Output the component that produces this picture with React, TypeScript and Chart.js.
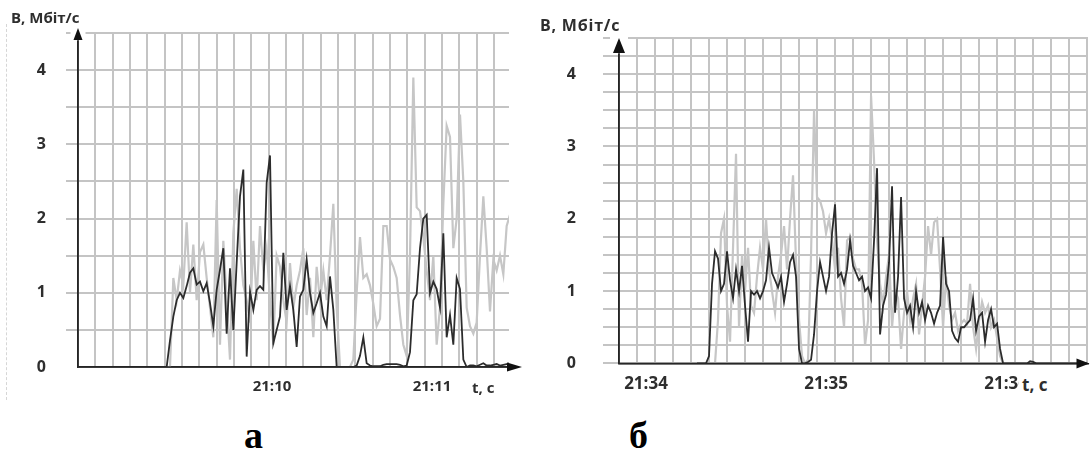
import React, { useEffect, useRef } from "react";
import { Chart, registerables } from "chart.js";

Chart.register(...registerables);

// ---------- Chart "а" (time in seconds since 21:00:00) ----------
const A_X_MIN = 527.25;
const A_X_MAX = 688.875;
const A_GRID_STEP = 6.5;
const A_TIME_LABELS = [600, 660]; // 21:10, 21:11
const A_Y_GRID = [0, 0.5, 1, 1.5, 2, 2.5, 3, 3.5, 4, 4.5];
const A_T0 = 558;
const A_DT = 1.25;
const A_DARK = [
  0, 0, 0, 0.36, 0.68, 0.9, 1.0, 0.93, 1.09, 1.27,
  1.33, 1.11, 1.15, 1.02, 1.13, 0.86, 0.55, 1.04, 1.31, 1.6,
  0.45, 1.33, 0.5, 1.4, 2.3, 2.66, 0.14, 1.02, 0.77, 1.04,
  1.09, 1.04, 2.48, 2.85, 0.32, 0.5, 0.68, 1.54, 0.77, 1.09,
  0.77, 0.27, 0.95, 1.04, 1.45, 1.0, 0.73, 0.86, 1.0, 0.68,
  0.55, 1.22, 0.77, 0, 0, 0, 0, 0, 0, 0.02,
  0.15, 0.4, 0.05, 0.02, 0.01, 0.01, 0.01, 0.03, 0.04, 0.04,
  0.04, 0.04, 0.03, 0.01, 0.02, 0.2, 0.9, 0.98, 1.6, 2.0,
  2.05, 1.0, 1.15, 1.05, 0.8, 1.8, 0.4, 0.7, 0.3, 1.2,
  1.05, 0.1, 0, 0.02, 0.02, 0.01, 0.03, 0.05, 0.02, 0.02,
  0.03, 0.04, 0.02, 0.03, 0.04, 0.05,
];
const A_LIGHT = [
  0, 0, 0, 0, 1.2, 0.9, 1.3, 1.1, 1.95, 1.0,
  1.65, 0.9, 1.55, 1.65, 1.2, 0.8, 0.4, 2.25, 0.3, 1.7,
  0.9, 0.1, 1.8, 2.4, 1.6, 1.1, 0.9, 0.6, 1.7, 0.9,
  1.9, 1.3, 1.6, 0.9, 0.3, 1.5, 1.35, 0.9, 0.6, 1.4,
  0.8, 1.1, 1.3, 1.6, 0.7, 1.2, 0.4, 1.35, 0.9, 1.3,
  0.9, 1.5, 2.2, 0.8, 0, 0, 0, 0, 0.1, 1.0,
  1.75, 1.2, 1.25, 1.1, 0.85, 0.55, 0.65, 1.9, 1.9, 1.45,
  1.35, 1.2, 0.7, 0.3, 0.15, 1.5, 3.9, 2.15, 2.1, 1.75,
  1.3, 0.9, 1.5, 0.3, 0.8, 2.2, 3.25, 3.1, 1.6, 2.0,
  3.4, 2.5, 0.8, 0.55, 0.45, 0.6, 1.5, 2.3, 1.6, 0.75,
  1.45, 1.3, 1.5, 1.25, 1.9, 2.05,
];

// ---------- Chart "б" ----------
const B_X_MIN = 2031;
const B_X_MAX = 2187.3;
const B_GRID_STEP = 6;
const B_TIME_LABELS = [2040, 2100, 2160]; // 21:34, 21:35, 21:36
const B_Y_GRID = [
  0, 0.25, 0.5, 0.75, 1, 1.25, 1.5, 1.75, 2, 2.25,
  2.5, 2.75, 3, 3.25, 3.5, 3.75, 4, 4.25, 4.5,
];
const B_T0 = 2057;
const B_DT = 1;
const B_DARK = [
  0, 0, 0, 0, 0.1, 1.1, 1.55, 1.45, 1.0, 1.1,
  1.55, 1.15, 0.9, 1.3, 1.0, 1.35, 0.8, 0.3, 1.0, 0.95,
  1.0, 0.9, 1.0, 1.15, 1.6, 1.25, 1.15, 1.05, 1.2, 0.85,
  1.1, 1.4, 1.5, 1.2, 0.2, 0, 0, 0.02, 0.05, 0.4,
  1.0, 1.4, 1.2, 1.0, 1.2, 1.8, 2.2, 1.2, 1.25, 1.1,
  1.3, 1.7, 1.35, 1.25, 1.15, 1.2, 1.0, 1.05, 0.9, 1.7,
  2.7, 0.4, 0.8, 0.95, 1.4, 2.45, 0.7, 1.2, 2.3, 0.9,
  0.7, 0.8, 0.5, 1.0, 0.7, 0.85, 0.6, 0.8, 0.7, 0.55,
  0.7, 0.8, 1.75, 1.1, 1.0, 0.45, 0.35, 0.3, 0.5, 0.5,
  0.55, 0.6, 0.9, 0.45, 0.65, 0.7, 0.3, 0.6, 0.75, 0.5,
  0.55, 0.2, 0, 0, 0, 0, 0, 0, 0, 0,
  0, 0.03, 0.02, 0, 0, 0, 0, 0, 0, 0,
  0, 0, 0, 0, 0, 0, 0, 0, 0, 0,
  0,
];
const B_LIGHT = [
  0, 0, 0, 0, 0, 0, 0, 0.6, 1.8, 2.0,
  0.8, 0.3, 1.6, 2.9, 0.5, 1.5, 1.0, 1.6, 0.8, 0.7,
  1.2, 1.6, 1.3, 2.0, 1.3, 1.0, 0.7, 1.2, 1.5, 1.9,
  1.3, 2.0, 2.6, 1.4, 0.6, 0.1, 0, 0.05, 1.5, 3.5,
  2.3, 2.25, 2.1, 1.8, 2.0, 1.7, 1.3, 1.6, 0.9, 0.5,
  1.7, 1.75, 1.45, 1.3, 1.3, 1.1, 0.25, 0.6, 3.7, 2.8,
  1.7, 1.1, 0.8, 1.2, 1.5, 0.5, 1.0, 0.9, 0.2, 0.7,
  1.0, 0.6, 0.9, 1.1, 0.4, 0.8, 1.2, 1.9, 1.5, 1.95,
  2.0, 1.3, 0.5, 1.2, 0.8, 0.6, 0.7, 0.45, 0.55, 0.6,
  0.55, 1.1, 0.5, 0.2, 0.6, 0.85, 0.7, 0.8, 0.5, 0.6,
  0.35, 0.1, 0, 0, 0, 0, 0, 0, 0, 0,
  0, 0, 0, 0, 0, 0, 0, 0, 0, 0,
  0, 0, 0, 0, 0, 0, 0, 0, 0, 0,
  0,
];

const GRID_COLOR = "#c4c4c4";
const LIGHT_COLOR = "#c6c6c6";
const DARK_COLOR = "#2c2c2c";
const AXIS_COLOR = "#262626";
const TEXT_COLOR = "#2e2e2e";

function fmtTime(t: number): string {
  const h = 21 + Math.floor(t / 3600);
  const m = Math.floor((t % 3600) / 60);
  return `${h}:${String(m).padStart(2, "0")}`;
}

const arrowPlugin = {
  id: "axisArrows",
  afterDraw(chart: any, _args: any, opts: any) {
    const { ctx, chartArea } = chart;
    const { left, top, right, bottom } = chartArea;
    ctx.save();
    const yTip = top - opts.yOver;
    ctx.fillStyle = "#ffffff";
    ctx.fillRect(left - opts.yW - 3, yTip - 2, 2 * opts.yW + 6, opts.yH + 3);
    ctx.strokeStyle = AXIS_COLOR;
    ctx.lineWidth = 1.5;
    ctx.beginPath();
    ctx.moveTo(left, bottom);
    ctx.lineTo(left, yTip + opts.yH - 1);
    ctx.stroke();
    ctx.fillStyle = "#111111";
    ctx.beginPath();
    ctx.moveTo(left, yTip);
    ctx.lineTo(left - opts.yW, yTip + opts.yH);
    ctx.lineTo(left + opts.yW, yTip + opts.yH);
    ctx.closePath();
    ctx.fill();
    const xTip = right + opts.xOver;
    ctx.beginPath();
    ctx.moveTo(left, bottom);
    ctx.lineTo(xTip - opts.xH + 1, bottom);
    ctx.stroke();
    ctx.beginPath();
    ctx.moveTo(xTip, bottom);
    ctx.lineTo(xTip - opts.xH, bottom - opts.xW);
    ctx.lineTo(xTip - opts.xH, bottom + opts.xW);
    ctx.closePath();
    ctx.fill();
    ctx.restore();
  },
};

type Spec = {
  left: number;
  width: number;
  height: number;
  padTop: number;
  padRight: number;
  yWidth: number;
  xHeight: number;
  xMin: number;
  xMax: number;
  gridStep: number;
  timeLabels: number[];
  yGrid: number[];
  yTickLen: number;
  yPad: number;
  xPad: number;
  hideZeroTick: boolean;
  t0: number;
  dt: number;
  dark: number[];
  light: number[];
  yFont: any;
  xFont: any;
  arrows: any;
};

function Panel({ spec }: { spec: Spec }) {
  const ref = useRef<HTMLCanvasElement>(null);
  useEffect(() => {
    const s = spec;
    const toPts = (arr: number[]) => arr.map((v, i) => ({ x: s.t0 + i * s.dt, y: v }));
    const chart = new Chart(ref.current as HTMLCanvasElement, {
      type: "line",
      data: {
        datasets: [
          {
            label: "dark",
            data: toPts(s.dark),
            borderColor: DARK_COLOR,
            borderWidth: 1.8,
            pointRadius: 0,
            tension: 0,
            order: 0,
            xAxisID: "x",
            yAxisID: "y",
          },
          {
            label: "light",
            data: toPts(s.light),
            borderColor: LIGHT_COLOR,
            borderWidth: 2.2,
            pointRadius: 0,
            tension: 0,
            order: 1,
            xAxisID: "x",
            yAxisID: "y",
          },
        ],
      },
      options: {
        animation: false,
        responsive: false,
        maintainAspectRatio: false,
        layout: { padding: { top: s.padTop, right: s.padRight, left: 0, bottom: 0 } },
        plugins: {
          legend: { display: false },
          tooltip: { enabled: false },
          axisArrows: s.arrows,
        } as any,
        scales: {
          x: {
            type: "linear",
            position: "bottom",
            weight: 0,
            min: s.xMin,
            max: s.xMax,
            afterBuildTicks: (sc: any) => {
              const t: any[] = [];
              for (let v = s.xMin; v <= s.xMax + 1e-9; v += s.gridStep) t.push({ value: v });
              sc.ticks = t;
            },
            afterFit: (sc: any) => {
              sc.height = 0;
            },
            ticks: { display: false },
            grid: { color: GRID_COLOR, lineWidth: 2, drawTicks: false },
            border: { display: true, color: AXIS_COLOR, width: 1.5 },
          },
          xl: {
            type: "linear",
            position: "bottom",
            weight: 1,
            min: s.xMin,
            max: s.xMax,
            afterBuildTicks: (sc: any) => {
              sc.ticks = s.timeLabels.map((v) => ({ value: v }));
            },
            afterFit: (sc: any) => {
              sc.height = s.xHeight;
            },
            grid: { display: false, drawTicks: false },
            border: { display: false },
            ticks: {
              autoSkip: false,
              maxRotation: 0,
              padding: s.xPad,
              color: TEXT_COLOR,
              font: s.xFont,
              callback: (v: any) => fmtTime(Number(v)),
            },
          },
          y: {
            type: "linear",
            position: "left",
            min: 0,
            max: 4.5,
            afterBuildTicks: (sc: any) => {
              sc.ticks = s.yGrid.map((v) => ({ value: v }));
            },
            afterFit: (sc: any) => {
              sc.width = s.yWidth;
            },
            grid: {
              color: GRID_COLOR,
              lineWidth: 2,
              tickLength: s.yTickLen,
              tickColor: (c: any) =>
                s.hideZeroTick && c.tick && c.tick.value === 0 ? "rgba(0,0,0,0)" : GRID_COLOR,
            },
            border: { display: true, color: AXIS_COLOR, width: 1.5 },
            ticks: {
              autoSkip: false,
              padding: s.yPad,
              color: TEXT_COLOR,
              font: s.yFont,
              callback: (v: any) => (Number.isInteger(Number(v)) ? String(v) : ""),
            },
          },
        },
      },
      plugins: [arrowPlugin as any],
    });
    return () => chart.destroy();
  }, [spec]);
  return (
    <canvas
      ref={ref}
      width={spec.width}
      height={spec.height}
      style={{ position: "absolute", left: spec.left, top: 0, width: spec.width, height: spec.height }}
    />
  );
}

const SPEC_A: Spec = {
  left: 0,
  width: 530,
  height: 400,
  padTop: 33,
  padRight: 21,
  yWidth: 78,
  xHeight: 33,
  xMin: A_X_MIN,
  xMax: A_X_MAX,
  gridStep: A_GRID_STEP,
  timeLabels: A_TIME_LABELS,
  yGrid: A_Y_GRID,
  yTickLen: 12,
  yPad: 20,
  xPad: 11,
  hideZeroTick: true,
  t0: A_T0,
  dt: A_DT,
  dark: A_DARK,
  light: A_LIGHT,
  yFont: { family: "'Open Sans'", size: 16, weight: "700" },
  xFont: { family: "'Open Sans'", size: 15, weight: "700" },
  arrows: { yOver: 5, yH: 12, yW: 4.5, xOver: 13, xH: 15, xW: 4.5 },
};

const SPEC_B: Spec = {
  left: 540,
  width: 550,
  height: 400,
  padTop: 38,
  padRight: 2,
  yWidth: 79,
  xHeight: 33,
  xMin: B_X_MIN,
  xMax: B_X_MAX,
  gridStep: B_GRID_STEP,
  timeLabels: B_TIME_LABELS,
  yGrid: B_Y_GRID,
  yTickLen: 16,
  yPad: 27,
  xPad: 11,
  hideZeroTick: false,
  t0: B_T0,
  dt: B_DT,
  dark: B_DARK,
  light: B_LIGHT,
  yFont: { family: "'Open Sans'", size: 16, weight: "700" },
  xFont: { family: "'Open Sans'", size: 17, weight: "700" },
  arrows: { yOver: 0, yH: 15, yW: 6, xOver: 1.5, xH: 13, xW: 5 },
};

const txt = (extra: React.CSSProperties): React.CSSProperties => ({
  position: "absolute",
  fontFamily: "'Open Sans', sans-serif",
  fontWeight: 700,
  color: TEXT_COLOR,
  whiteSpace: "nowrap",
  lineHeight: 1,
  ...extra,
});

export default function App() {
  return (
    <div style={{ position: "absolute", left: 0, top: 0, width: 1090, height: 454, background: "#fff", overflow: "hidden" }}>
      <div style={{ position: "absolute", left: 6, top: 24, height: 376, borderLeft: "1px dashed #d6d6d6" }} />
      <Panel spec={SPEC_A} />
      <Panel spec={SPEC_B} />
      <div style={txt({ left: 11, top: 10, fontSize: 15 })}>B, Мбіт/с</div>
      <div style={txt({ left: 540, top: 17, fontSize: 16, letterSpacing: 0.8 })}>B, Мбіт/с</div>
      <div style={txt({ left: 472, top: 380, fontSize: 15 })}>t, c</div>
      <div style={txt({ left: 1019, top: 372, fontSize: 17, background: "#fff", paddingTop: 4, paddingBottom: 4, paddingLeft: 3, paddingRight: 2 })}>t, c</div>
      <div style={txt({ left: 244, top: 416, fontSize: 38, fontWeight: 700, color: "#000", fontFamily: "'Liberation Serif', serif" })}>а</div>
      <div style={txt({ left: 629, top: 416, fontSize: 38, fontWeight: 700, color: "#000", fontFamily: "'Liberation Serif', serif" })}>б</div>
    </div>
  );
}
